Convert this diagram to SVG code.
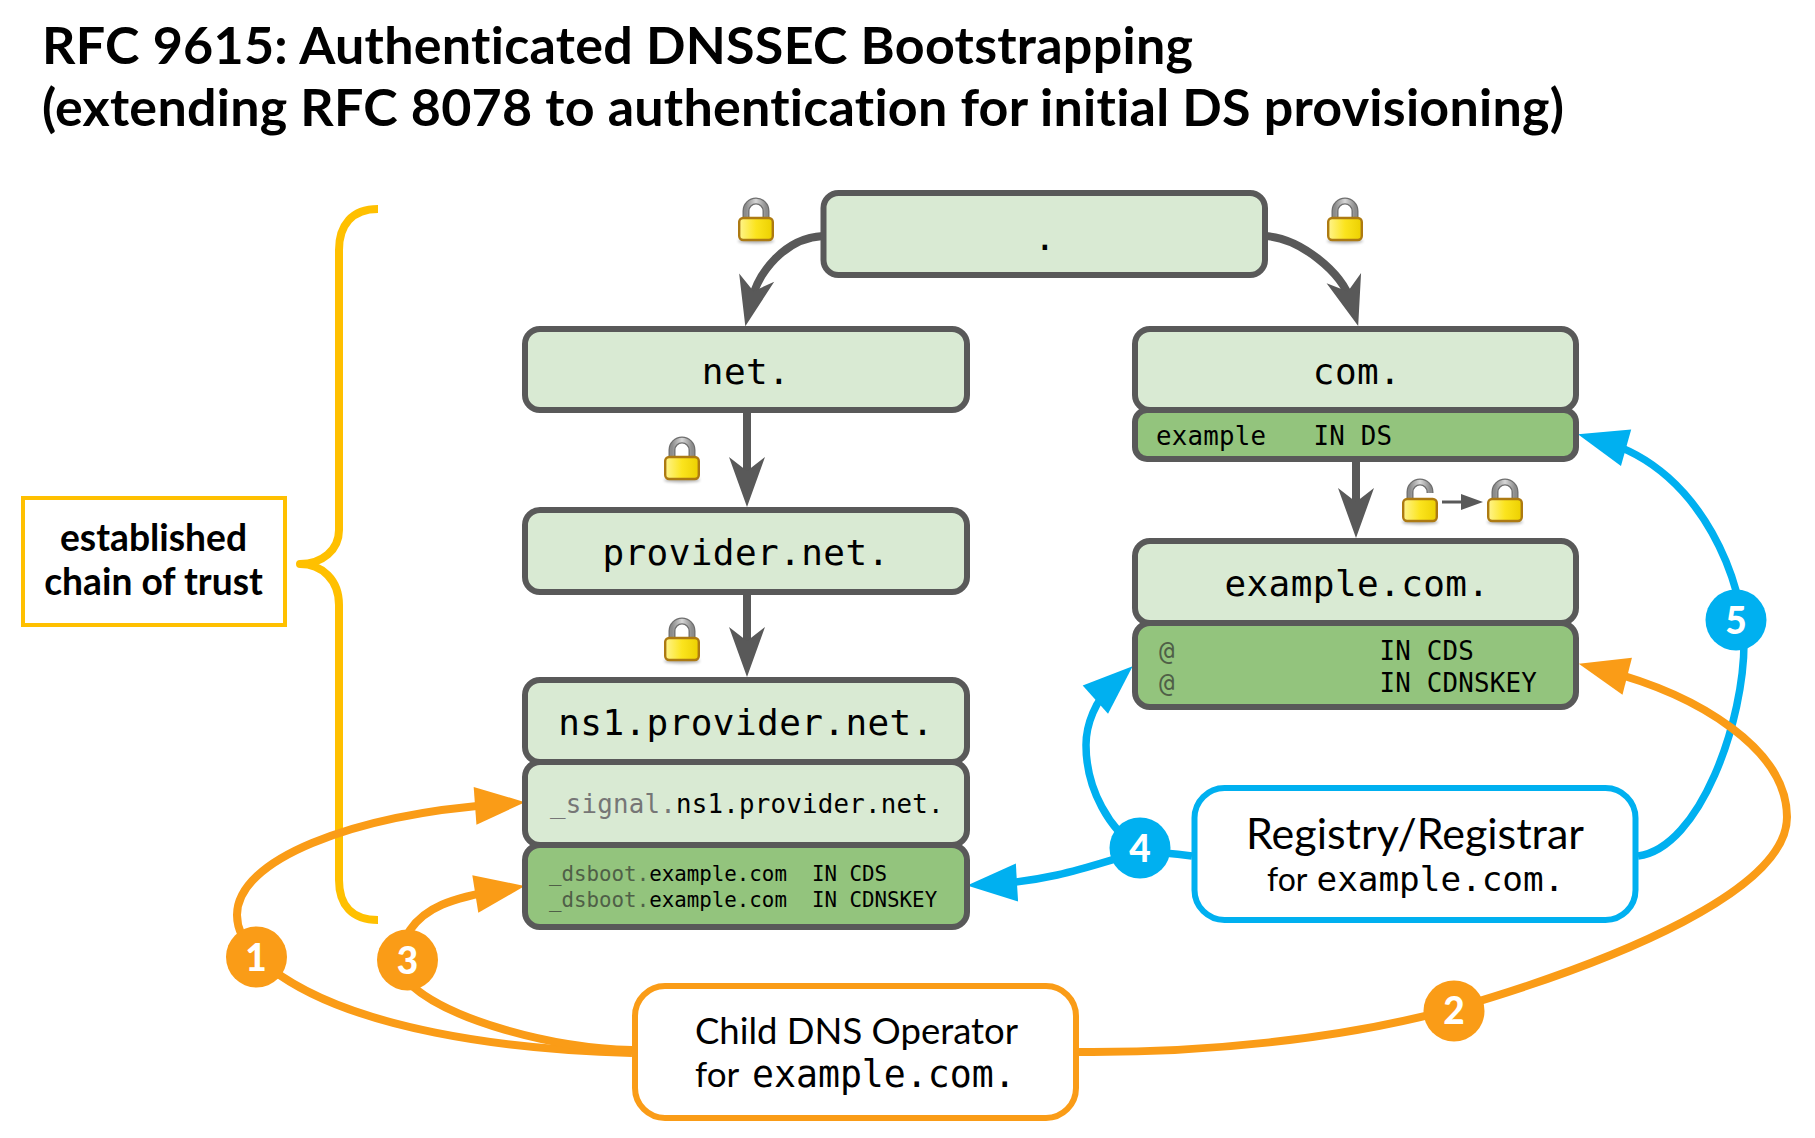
<svg xmlns="http://www.w3.org/2000/svg" width="1815" height="1138" viewBox="0 0 1815 1138">
<style>
.zone{stroke:#595959;stroke-width:6}
.lt{fill:#d9ead3}
.dk{fill:#93c47d}
.m{font-family:"DejaVu Sans Mono","Liberation Mono",monospace;fill:#000}
.big{font-size:36px;text-anchor:middle;letter-spacing:.42px}
.mid{font-size:25.8px;letter-spacing:.22px}
.sm{font-size:20.8px}
.dim{fill:#767676}
.dim2{fill:#4f5f47}
.l{font-family:Lato,"Liberation Sans",sans-serif;fill:#000;font-variant-ligatures:none}
.op{fill:#fff;stroke-width:6}
.num{font-family:Lato,"Liberation Sans",sans-serif;font-weight:900;font-size:37px;fill:#fff;text-anchor:middle}
.c{fill:none}
.g{stroke:#595959;stroke-width:8}
.o{stroke:#fa9c17;stroke-width:8}
.b{stroke:#00b0f0;stroke-width:7.5}
</style>
<defs>
<marker id="ag" markerUnits="userSpaceOnUse" markerWidth="60" markerHeight="60" refX="30" refY="30" orient="auto" overflow="visible"><path d="M55,30 L5,12 L19,30 L5,48Z" fill="#595959"/></marker>
<marker id="ao" markerUnits="userSpaceOnUse" markerWidth="60" markerHeight="60" refX="30" refY="30" orient="auto" overflow="visible"><path d="M55,30 L5,11 L5,49Z" fill="#fa9c17"/></marker>
<marker id="ab" markerUnits="userSpaceOnUse" markerWidth="60" markerHeight="60" refX="30" refY="30" orient="auto" overflow="visible"><path d="M55,30 L5,11 L5,49Z" fill="#00b0f0"/></marker>
<marker id="as" markerUnits="userSpaceOnUse" markerWidth="30" markerHeight="24" refX="2" refY="12" orient="auto" overflow="visible"><path d="M22,12 L0,4 L0,20Z" fill="#595959"/></marker>
<linearGradient id="gold" x1="0" y1="0" x2="1" y2="0"><stop offset="0" stop-color="#fff48c"/><stop offset="0.5" stop-color="#fbe41e"/><stop offset="1" stop-color="#ecd000"/></linearGradient>
<linearGradient id="steel" x1="0" y1="0" x2="1" y2="0"><stop offset="0" stop-color="#8c8c8c"/><stop offset="0.5" stop-color="#d8d8d8"/><stop offset="1" stop-color="#8c8c8c"/></linearGradient>
<filter id="soft" x="-30%" y="-200%" width="160%" height="500%"><feGaussianBlur stdDeviation="1.5"/></filter>
<g id="body"><ellipse cx="18" cy="43" rx="18" ry="2.5" fill="#000" opacity="0.3" filter="url(#soft)"/><rect x="1.2" y="20" width="33.6" height="22" rx="4" fill="url(#gold)" stroke="#ad7a12" stroke-width="2.4"/></g>
<g id="lock"><path d="M8,20 V13 A10,10 0 0 1 28,13 V20" fill="none" stroke="#6e6e6e" stroke-width="7"/><path d="M8,20 V13 A10,10 0 0 1 28,13 V20" fill="none" stroke="url(#steel)" stroke-width="4.4"/><use href="#body"/></g>
<g id="unlock"><path d="M8,20 V13 A10,10 0 0 1 28,13 V14" fill="none" stroke="#6e6e6e" stroke-width="7"/><path d="M8,20 V13 A10,10 0 0 1 28,13 V14" fill="none" stroke="url(#steel)" stroke-width="4.4"/><use href="#body"/></g>
</defs>
<rect width="1815" height="1138" fill="#fff"/>
<g id="title" class="l" font-weight="700" font-size="52">
<text x="42" y="64" textLength="1151">RFC 9615: Authenticated DNSSEC Bootstrapping</text>
<text x="42" y="126" textLength="1522">(extending RFC 8078 to authentication for initial DS provisioning)</text>
</g>
<g id="brace"><path class="c" d="M378,209 C352,209 339,225 339,250 V530 C339,550 322,564 300,564 C322,564 339,580 339,605 V880 C339,905 352,920 378,920" stroke="#ffc000" stroke-width="8" stroke-linecap="butt" stroke-linejoin="round"/></g>
<g id="connectors">
<path class="c g" marker-end="url(#ag)" d="M823,236 C785,238 758,272 751,302"/>
<path class="c g" marker-end="url(#ag)" d="M1265,236 C1300,238 1342,272 1351,302"/>
<path class="c g" marker-end="url(#ag)" d="M747,413 V482"/>
<path class="c g" marker-end="url(#ag)" d="M747,595 V652"/>
<path class="c g" marker-end="url(#ag)" d="M1356,462 V513"/>
<path class="c" stroke="#595959" stroke-width="3" marker-end="url(#as)" d="M1442,502 H1463"/>
<path class="c o" marker-end="url(#ao)" d="M632,1053 C510,1050 350,1030 270,968 C245,948 237,930 237,915 C237,860 350,815 500,804"/>
<path class="c o" marker-end="url(#ao)" d="M632,1050 C550,1048 450,1020 411,985 C395,970 400,945 410,930 C425,908 450,898 500,890"/>
<path class="c b" marker-end="url(#ab)" d="M1192,856 C1170,853 1150,852 1140,852 C1100,862 1060,880 992,884"/>
<path class="c b" marker-end="url(#ab)" d="M1140,850 C1110,830 1086,790 1086,745 C1086,725 1095,700 1114,683"/>
<path class="c b" marker-end="url(#ab)" d="M1638,856 C1700,848 1745,720 1744,640 C1744,590 1706,470 1602,441"/>
<path class="c o" marker-end="url(#ao)" d="M1079,1052 C1200,1053 1340,1040 1456,1008 C1620,960 1787,890 1787,817 C1787,750 1700,695 1603,670"/>
</g>
<g id="n-root"><rect class="zone lt" x="823.5" y="193" width="441.5" height="82" rx="15"/><text class="m big" x="1045" y="250">.</text></g>
<g id="n-net"><rect class="zone lt" x="525" y="329" width="442" height="81" rx="15"/><text class="m big" x="746" y="384">net.</text></g>
<g id="n-provider"><rect class="zone lt" x="525" y="510" width="442" height="82" rx="15"/><text class="m big" x="746" y="565">provider.net.</text></g>
<g id="n-ns1"><rect class="zone lt" x="525" y="680" width="442" height="82" rx="15"/><text class="m big" x="746" y="735">ns1.provider.net.</text></g>
<g id="n-signal"><rect class="zone lt" x="525" y="762" width="442" height="83" rx="15"/><text class="m mid" x="550" y="813"><tspan class="dim">_signal.</tspan>ns1.provider.net.</text></g>
<g id="n-dsboot"><rect class="zone dk" x="525" y="845" width="442" height="82" rx="15"/><text class="m sm" x="549" y="881" xml:space="preserve"><tspan class="dim2">_dsboot.</tspan>example.com  IN CDS</text><text class="m sm" x="549" y="907" xml:space="preserve"><tspan class="dim2">_dsboot.</tspan>example.com  IN CDNSKEY</text></g>
<g id="n-com"><rect class="zone lt" x="1135" y="329" width="441" height="81" rx="15"/><text class="m big" x="1357" y="384">com.</text></g>
<g id="n-ds"><rect class="zone dk" x="1135" y="410" width="441" height="49" rx="12"/><text class="m mid" x="1156" y="445" xml:space="preserve">example   IN DS</text></g>
<g id="n-example"><rect class="zone lt" x="1135" y="541" width="441" height="82" rx="15"/><text class="m big" x="1357" y="596">example.com.</text></g>
<g id="n-cds"><rect class="zone dk" x="1135" y="623" width="441" height="84" rx="15"/><text class="m mid" x="1159" y="660" xml:space="preserve"><tspan class="dim2">@</tspan>             IN CDS</text><text class="m mid" x="1159" y="692" xml:space="preserve"><tspan class="dim2">@</tspan>             IN CDNSKEY</text></g>
<g id="n-registry"><rect class="op" stroke="#00b0f0" x="1194.5" y="788" width="441" height="132" rx="30"/><text class="l" font-size="43" x="1415" y="849" text-anchor="middle">Registry/Registrar</text><text class="l" font-size="32" x="1267" y="891">for</text><text class="m" font-size="34.3" x="1316.500" y="891">example.com.</text></g>
<g id="n-child"><rect class="op" stroke="#fa9c17" x="635" y="986" width="441" height="132" rx="30"/><text class="l" font-size="36.5" x="856.500" y="1044" text-anchor="middle">Child DNS Operator</text><text class="l" font-size="35" x="695" y="1087">for</text><text class="m" font-size="36.500" x="752" y="1087">example.com.</text></g>
<g id="n-established"><rect fill="#fff" stroke="#ffc000" stroke-width="4" x="23" y="498" width="262" height="127"/><text class="l" font-weight="700" font-size="37.200" x="153.500" y="551" text-anchor="middle">established</text><text class="l" font-weight="700" font-size="37.200" x="153.500" y="595" text-anchor="middle">chain of trust</text></g>
<g id="locks">
<use href="#lock" x="738" y="198"/>
<use href="#lock" x="1327" y="198"/>
<use href="#lock" x="664" y="437"/>
<use href="#lock" x="664" y="618"/>
<use href="#unlock" x="1402" y="479"/>
<use href="#lock" x="1487" y="479"/>
</g>
<g id="step1"><circle cx="256.500" cy="957" r="30.500" fill="#fa9c17"/><text class="num" x="256" y="971">1</text></g>
<g id="step2"><circle cx="1454" cy="1011" r="30.500" fill="#fa9c17"/><text class="num" x="1454" y="1024">2</text></g>
<g id="step3"><circle cx="407.500" cy="960" r="30.500" fill="#fa9c17"/><text class="num" x="407.500" y="974">3</text></g>
<g id="step4"><circle cx="1140" cy="848" r="30.500" fill="#00b0f0"/><text class="num" x="1140" y="862">4</text></g>
<g id="step5"><circle cx="1736" cy="620" r="30.500" fill="#00b0f0"/><text class="num" x="1736" y="634">5</text></g>
</svg>
